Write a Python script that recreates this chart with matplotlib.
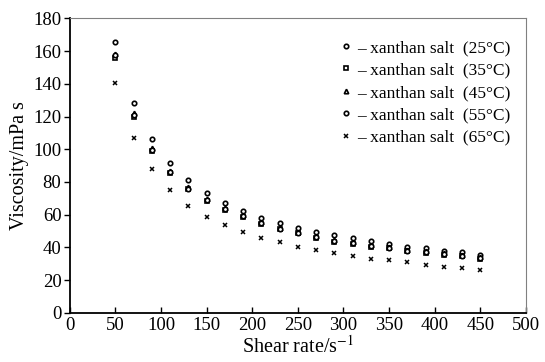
import matplotlib
matplotlib.use("Agg")
import matplotlib.pyplot as plt

plt.rcParams["font.family"] = ["Liberation Serif", "DejaVu Serif"]
plt.rcParams["mathtext.fontset"] = "stix"

shear_rate = [50, 70, 90, 110, 130, 150, 170, 190, 210, 230, 250,
              270, 290, 310, 330, 350, 370, 390, 410, 430, 450]
visc_25 = [165.5, 128.5, 106.5, 91.5, 81.5, 73, 67, 62, 58, 55, 52,
           49.7, 47.5, 46, 44, 42, 40.5, 39.5, 38, 37, 35.5]
visc_35 = [156, 120, 99, 85.5, 75.5, 68.5, 63, 58.5, 54.5, 51, 48.5,
           46, 43.5, 42, 40.5, 39.5, 37.5, 36.5, 35.5, 34.5, 33]
visc_45 = [158.5, 122, 100.5, 87, 77, 69.5, 64, 59.5, 55.5, 52, 49.5,
           47, 44.5, 43, 41.5, 40, 38.5, 37.5, 36.5, 35.5, 34]
visc_55 = [157.5, 121, 99.5, 86, 76, 69, 63.5, 59, 55, 51.5, 49,
           46.5, 44, 42.5, 41, 39.5, 38, 37, 36, 35, 33.5]
visc_65 = [140.5, 107, 88, 75, 65.5, 58.5, 53.5, 49.5, 46, 43, 40.5,
           38.3, 36.4, 34.8, 33.1, 32.1, 30.9, 29.3, 28.2, 27.2, 26]
labels = ["25", "35", "45", "55", "65"]

fig = plt.figure(figsize=(5.45, 3.62), dpi=100)
ax = fig.add_axes([0.128, 0.136, 0.837, 0.813])

series = [visc_25, visc_35, visc_45, visc_55, visc_65]
markers = ["o", "s", "^", "o", "x"]
for vals, m, lab in zip(series, markers, labels):
    kw = dict(markersize=3.2, color="black", linestyle="none", marker=m)
    if m != "x":
        kw.update(markerfacecolor="white", markeredgewidth=1.2)
    else:
        kw.update(markeredgewidth=1.1)
    ax.plot(shear_rate, vals, label="\u2013 xanthan salt  (" + lab + "\u00b0C)", **kw)

ax.set_xlim(0, 500)
ax.set_ylim(0, 180)
ax.set_xticks(range(0, 501, 50))
ax.set_yticks(range(0, 181, 20))
ax.tick_params(axis="x", direction="in", length=4, width=1, labelsize=13.5, pad=3)
ax.tick_params(axis="y", direction="out", length=4, width=1, labelsize=13.5, pad=2)
for s in ["left", "bottom"]:
    ax.spines[s].set_linewidth(1.3)
for s in ["top", "right"]:
    ax.spines[s].set_color("gray")
    ax.spines[s].set_linewidth(0.8)

ax.set_xlabel("Shear rate/s$^{-1}$", fontsize=14.5, labelpad=1)
ax.set_ylabel("Viscosity/mPa s", fontsize=14.5, labelpad=3)

ax.legend(loc="upper right", bbox_to_anchor=(1.0, 0.98), frameon=False,
          fontsize=12.5, handlelength=0.6, handletextpad=0.35, labelspacing=0.36)

fig.savefig("out.png", dpi=100)
